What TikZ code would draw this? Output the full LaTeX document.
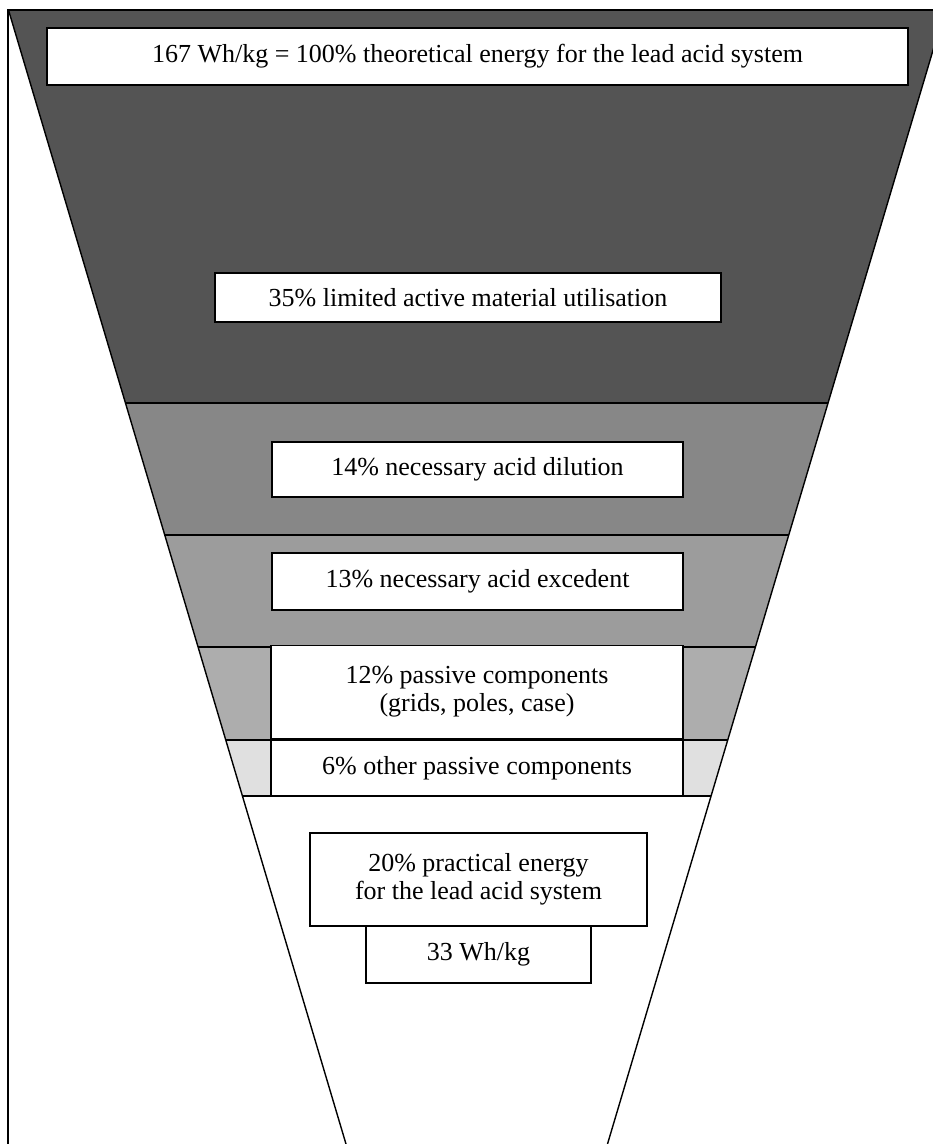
\documentclass[tikz,border=0pt]{standalone}
\usepackage{fontspec}
\setmainfont{Liberation Serif}
\usetikzlibrary{calc}
\begin{document}
\begin{tikzpicture}[x=1pt,y=-1pt,
  box/.style={draw=black, line width=1.5pt, fill=white, align=center,
    inner sep=0pt, font=\fontsize{26}{28}\selectfont},
  edge/.style={line width=1.4pt, black},
  band1/.style={fill=black!67},
  band2/.style={fill=black!47},
  band3/.style={fill=black!39},
  band4/.style={fill=black!32},
  band5/.style={fill=black!12},
  ]
\useasboundingbox (0,0) rectangle (933,1144);
\clip (0,0) rectangle (933,1144);

% funnel corners (extends past the page on the right and below)
\coordinate (TL) at (8.5,10);
\coordinate (TR) at (945,10);
\coordinate (BL) at (346,1144);
\coordinate (BR) at (607.5,1144);

% points where the band boundaries meet the funnel sides
\foreach \n/\t in {a/0.34656, b/0.46296, c/0.56173, d/0.64374, e/0.69312}{
  \coordinate (L\n) at ($(TL)!\t!(BL)$);
  \coordinate (R\n) at ($(TR)!\t!(BR)$);
}

% shaded bands
\fill[band1] (TL) -- (TR) -- (Ra) -- (La) -- cycle;
\fill[band2] (La) -- (Ra) -- (Rb) -- (Lb) -- cycle;
\fill[band3] (Lb) -- (Rb) -- (Rc) -- (Lc) -- cycle;
\fill[band4] (Lc) -- (Rc) -- (Rd) -- (Ld) -- cycle;
\fill[band5] (Ld) -- (Rd) -- (Re) -- (Le) -- cycle;

% band boundaries and funnel sides
\foreach \n in {a,b,c,d,e}{ \draw[edge] (L\n) -- (R\n); }
\draw[edge] (TL) -- (BL);
\draw[edge] (TR) -- (BR);

% frame
\draw[edge] (8,1144) -- (8,10) -- (933,10);

% labels
\node[box, minimum width=861pt, minimum height=57pt] (top) at (477.5,56.5)
  {167 Wh/kg = 100\% theoretical energy for the lead acid system};
\node[box, minimum width=506pt, minimum height=49pt] (util) at (468,297.5)
  {35\% limited active material utilisation};
\node[box, minimum width=411pt, minimum height=55pt] (dil) at (477.5,469.5)
  {14\% necessary acid dilution};
\node[box, minimum width=411pt, minimum height=57pt] (exc) at (477.5,581.5)
  {13\% necessary acid excedent};
\node[box, minimum width=412pt, minimum height=93pt] (pas) at (477,692)
  {12\% passive components\\(grids, poles, case)};
\node[box, minimum width=412pt, minimum height=56pt] (oth) at (477,768)
  {6\% other passive components};
\node[box, minimum width=337pt, minimum height=93pt] (prac) at (478.5,879.5)
  {20\% practical energy\\for the lead acid system};
\node[box, minimum width=225pt, minimum height=57pt] (wh) at (478.5,954.5)
  {33 Wh/kg};
\end{tikzpicture}
\end{document}
